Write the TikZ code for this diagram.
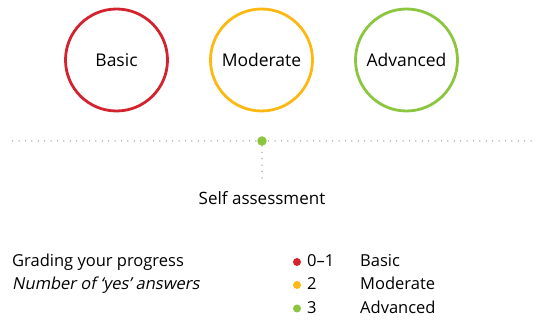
\documentclass[tikz,border=0pt]{standalone}
\usepackage{fontspec}
\setmainfont{Open Sans}
\newfontfamily\obliquefont[FakeSlant=0.2]{Open Sans}
\usetikzlibrary{positioning}
\definecolor{levelred}{HTML}{D3232E}
\definecolor{levelamber}{HTML}{FDB813}
\definecolor{levelgreen}{HTML}{8CC63F}
\definecolor{dotgrey}{HTML}{9A9A9A}

\begin{document}
\begin{tikzpicture}[x=1pt,y=1pt,
  level/.style={draw,circle,line width=2.8pt,minimum size=102pt,inner sep=0pt,
    font=\fontsize{17.5}{21}\selectfont},
  dotline/.style={dotgrey,line width=1.5pt,line cap=round,dash pattern=on 0pt off 6.4pt},
  key/.style={circle,inner sep=0pt,minimum size=8pt},
  legend/.style={anchor=base west,inner sep=0pt,font=\fontsize{16.5}{20}\selectfont},
  node distance=145pt,on grid]
\useasboundingbox (0,0) rectangle (547,323);
% the three levels
\node[level,draw=levelred] (basic) at (116.5,263) {Basic};
\node[level,draw=levelamber,right=of basic] (moderate) {Moderate};
\node[level,draw=levelgreen,right=of moderate] (advanced) {Advanced};
% scale with marker
\coordinate (scaleL) at (12.7,182);
\coordinate (scaleR) at (535,182);
\coordinate (stem) at (262,142);
\draw[dotline] (scaleL) -- (scaleR);
\node[key,fill=levelgreen,minimum size=9.5pt] (self) at (262,182) {};
\draw[dotline] (self) -- (stem);
\node[anchor=base,inner sep=0pt,font=\fontsize{17}{20}\selectfont] (selftext) at (262,118) {Self assessment};
% legend
\node[legend] (grading) at (12,56) {Grading your progress};
\node[legend,font=\fontsize{16.5}{20}\obliquefont] (answers) at (12,33) {Number of ‘yes’ answers};
\foreach \y/\col/\score/\name in {56/levelred/0--1/Basic,33/levelamber/2/Moderate,9.5/levelgreen/3/Advanced}{
  \node[key,fill=\col] (key\name) at (297,\y+5) {};
  \node[legend] (score\name) at (307,\y) {\score};
  \node[legend] (label\name) at (360,\y) {\name};
}
\end{tikzpicture}
\end{document}
